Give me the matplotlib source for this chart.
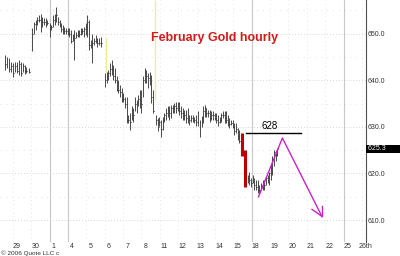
import matplotlib
matplotlib.use("Agg")
import matplotlib.pyplot as plt
from matplotlib.patches import Rectangle
from matplotlib.transforms import blended_transform_factory

# ---------------- data ----------------
day_labels = ["29", "30", "1", "4", "5", "6", "7", "8", "11", "12", "13",
              "14", "15", "18", "19", "20", "21", "22", "25", "26th"]
week_break_labels = ["1", "4", "18", "25"]

bar_day = [-0.65, -0.56, -0.42, -0.32, -0.20, -0.11, 0.02, 0.12, 0.22, 0.34, 0.43, 0.52, 0.66,
           0.82, 0.93, 1.02, 1.12, 1.20, 1.29, 1.39, 1.47, 1.56, 1.65, 1.78, 1.87, 1.96, 2.05,
           2.14, 2.23, 2.32, 2.41, 2.50, 2.59, 2.68, 2.77, 2.86, 2.95, 3.04, 3.13, 3.22, 3.30,
           3.40, 3.49, 3.57, 3.67, 3.76, 3.84, 3.94, 4.03, 4.11, 4.20, 4.30, 4.38, 4.47, 4.57,
           4.80, 4.89, 4.98, 5.07, 5.16, 5.25, 5.34, 5.43, 5.51, 5.61, 5.70, 5.78, 5.88, 5.97,
           6.05, 6.15, 6.24, 6.32, 6.42, 6.51, 6.59, 6.68, 6.78, 6.86, 6.95, 7.05, 7.13, 7.22,
           7.32, 7.40, 7.58, 7.67, 7.76, 7.85, 7.94, 8.03, 8.12, 8.21, 8.30, 8.39, 8.48, 8.57,
           8.66, 8.75, 8.84, 8.93, 9.02, 9.11, 9.20, 9.29, 9.38, 9.47, 9.56, 9.65, 9.74, 9.83,
           9.94, 10.05, 10.14, 10.23, 10.31, 10.40, 10.50, 10.58, 10.67, 10.77, 10.85, 10.94,
           11.04, 11.12, 11.21, 11.31, 11.39, 11.48, 11.57, 11.66, 11.75, 11.84, 11.93, 12.02,
           12.11, 12.56, 12.65, 12.74, 12.83, 12.92, 13.01, 13.10, 13.19, 13.28, 13.37, 13.46,
           13.55, 13.64, 13.73, 13.82, 13.91, 14.00, 14.09, 14.18]
bar_high = [645.4, 645.0, 644.7, 644.0, 643.6, 644.0, 644.0, 644.3, 644.0, 643.6, 643.3, 642.9, 642.6,
            651.1, 652.5, 652.9, 653.6, 654.0, 654.3, 653.6, 653.3, 653.3, 652.9, 652.2, 651.8, 654.0, 654.3,
            655.7, 653.6, 652.9, 652.2, 651.8, 651.5, 651.1, 651.1, 651.1, 650.8, 650.0, 650.8, 650.4, 650.8,
            650.8, 651.1, 651.1, 651.5, 652.2, 654.0, 652.9, 648.6, 650.0, 649.0, 649.7, 649.0, 649.0, 649.3,
            641.5, 641.8, 642.2, 643.6, 644.3, 643.3, 642.6, 640.8, 640.1, 639.0, 638.3, 637.2, 636.5, 636.5,
            632.6, 632.9, 634.4, 634.0, 636.5, 635.8, 636.9, 637.9, 637.9, 640.8, 642.6, 642.2, 641.5, 641.8,
            641.1, 637.9, 632.6, 631.9, 632.2, 631.5, 632.2, 632.9, 634.0, 634.4, 634.4, 634.7, 634.7, 635.1,
            635.4, 635.4, 635.4, 634.4, 634.0, 633.6, 633.6, 634.0, 632.6, 632.6, 632.6, 632.2, 632.6, 633.3,
            631.5, 632.4, 634.4, 634.7, 634.0, 633.6, 633.6, 633.3, 633.3, 632.9, 632.9, 632.6,
            632.2, 632.9, 633.3, 633.3, 633.3, 632.6, 631.9, 631.5, 631.5, 630.8, 630.8, 629.7,
            629.4, 619.7, 620.4, 619.0, 619.7, 619.0, 618.7, 618.7, 617.6, 618.0, 618.7, 618.7,
            619.4, 619.7, 620.4, 622.2, 623.7, 625.1, 625.1, 625.5]
bar_low = [642.2, 642.6, 641.8, 641.8, 640.6, 641.8, 641.5, 641.1, 640.9, 641.8, 641.3, 641.6, 641.5,
           646.3, 650.0, 650.8, 651.8, 652.5, 650.4, 651.5, 651.8, 651.5, 651.8, 649.3, 650.8, 651.5, 651.8,
           652.5, 651.8, 651.5, 650.4, 650.0, 650.0, 650.0, 649.7, 649.3, 647.9, 648.3, 644.3, 649.0, 649.3,
           649.3, 649.7, 650.0, 649.3, 649.7, 649.3, 646.5, 646.8, 643.6, 647.5, 647.9, 647.2, 647.5, 647.2,
           638.6, 639.4, 640.1, 640.8, 641.1, 640.1, 639.4, 637.6, 637.2, 636.5, 635.4, 635.4, 634.0, 630.8,
           630.8, 629.4, 631.5, 631.1, 633.3, 632.9, 634.4, 634.0, 632.9, 636.5, 639.4, 639.4, 638.3, 639.0,
           635.1, 632.9, 630.4, 629.0, 630.1, 627.9, 629.4, 631.1, 631.5, 632.2, 631.5, 631.9, 632.9, 632.9,
           632.9, 633.3, 632.6, 631.9, 631.5, 631.5, 630.8, 630.8, 630.4, 631.1, 631.1, 630.8, 630.1, 630.1,
           627.9, 629.9, 630.8, 632.2, 632.2, 632.2, 631.1, 631.5, 631.5, 631.5, 630.8, 630.1,
           630.8, 631.1, 631.9, 630.8, 630.8, 630.1, 629.7, 630.4, 629.7, 628.3, 628.7, 627.2,
           626.5, 618.0, 617.6, 617.2, 618.0, 616.5, 616.5, 615.8, 615.8, 616.5, 616.5, 616.5,
           617.6, 618.0, 617.6, 618.7, 619.7, 621.5, 622.6, 623.8]
bar_close = [643.5, 644.0, 642.5, 643.0, 641.5, 643.0, 642.0, 643.5, 641.5, 643.0, 642.0, 642.0, 641.8,
             650.0, 652.0, 651.5, 653.0, 653.0, 652.0, 652.5, 652.5, 652.0, 652.2, 650.5, 651.5, 653.0, 653.5,
             654.0, 652.5, 652.0, 651.0, 650.8, 650.5, 650.5, 650.2, 650.0, 648.5, 649.5, 649.0, 649.8, 650.2,
             650.0, 650.5, 650.5, 651.0, 651.5, 652.5, 647.5, 647.5, 648.0, 648.5, 648.5, 648.0, 648.0, 648.0,
             640.0, 641.0, 641.5, 642.5, 642.5, 641.0, 640.0, 638.5, 638.0, 637.5, 636.5, 636.0, 635.0, 631.5,
             631.5, 631.0, 633.0, 632.5, 635.0, 634.0, 636.0, 636.5, 635.0, 640.0, 641.5, 641.0, 640.5, 640.5,
             636.5, 633.5, 631.5, 630.0, 631.0, 629.5, 631.5, 632.5, 633.0, 633.5, 633.0, 634.0, 634.0, 634.5,
             634.0, 634.5, 633.5, 633.0, 632.5, 632.5, 632.0, 631.5, 631.5, 632.0, 631.5, 631.5, 631.0, 630.5,
             628.5, 631.5, 633.5, 634.0, 633.0, 633.0, 632.0, 632.5, 632.5, 632.0, 631.5, 631.0,
             631.5, 632.5, 632.5, 632.0, 631.5, 631.0, 630.5, 630.8, 630.0, 629.0, 629.5, 628.0,
             627.0, 619.0, 618.5, 618.0, 618.5, 617.5, 617.0, 616.5, 616.5, 617.0, 618.0, 617.5,
             619.0, 619.0, 620.0, 621.5, 623.0, 624.5, 624.0, 625.3]

red_day = [12.25, 12.41]
red_high = [628.7, 625.1]
red_low = [623.7, 617.2]

gap_day = [4.85, 7.50]
gap_top = [649.0, 657.2]
gap_bot = [641.5, 635.8]

arrow_day = [13.15, 14.45, 16.60]
arrow_price = [615.0, 627.6, 610.8]
barb_day = [16.06, 16.60]
barb_price = [612.3, 613.0]

target_level = 628.7
target_days = [12.45, 15.47]
target_text = "628"
last_price = 625.3
title_text = "February Gold hourly"
copyright_text = "\u00a9 2006 Quote LLC c"
y_major = [610, 620, 630, 640, 650]
y_minor = [615, 625, 635, 645, 655]

# ---------------- figure ----------------
plt.rcParams['font.family'] = ['Liberation Sans', 'DejaVu Sans']
fig = plt.figure(figsize=(4.0, 2.56), dpi=100)
ax = fig.add_axes([0.0, 14 / 256, 366 / 400, 242 / 256])
ax.set_xlim(-0.92, 18.81)
ax.set_ylim(605.3, 657.2)

grid_off = -0.22
n_days = len(day_labels)
# grids
for yv in y_major:
    ax.axhline(yv, color='#c8c8c8', lw=0.6, ls=(0, (1, 2.5)), zorder=0)
for yv in y_minor:
    ax.axhline(yv, color='#d8d8d8', lw=0.6, ls=(0, (1, 6)), zorder=0)
for i, lab in enumerate(day_labels):
    if lab in week_break_labels:
        ax.axvline(i + grid_off, color='#c8c8c8', lw=0.8, zorder=0)
    else:
        ax.axvline(i + grid_off, color='#dcdcdc', lw=0.6, ls=(0, (1, 4)), zorder=0)

# yellow gap markers
ax.vlines(gap_day, gap_bot, gap_top, color='#f2ee90', lw=1.0, zorder=1)

# OHLC bars (high-low + close tick)
bar_col = '#3c3c3c'
ax.vlines(bar_day, bar_low, bar_high, color=bar_col, lw=0.65, zorder=2)
tick_w = 0.045
for d, c in zip(bar_day, bar_close):
    ax.plot([d, d + tick_w], [c, c], color=bar_col, lw=0.5, zorder=2)

# red bars
ax.vlines(red_day, red_low, red_high, color='#c00000', lw=2.2, zorder=3)

# target line + label
ax.plot(target_days, [target_level, target_level], color='black', lw=1.0, zorder=3)
ax.text(sum(target_days) / 2 - 0.2, target_level + 0.3, target_text, ha='center', va='bottom',
        fontsize=7, color='black', zorder=4)

# magenta projection
ax.plot(arrow_day, arrow_price, color='#cc22cc', lw=1.0, zorder=4)
for bd, bp in zip(barb_day, barb_price):
    ax.plot([bd, arrow_day[-1]], [bp, arrow_price[-1]], color='#cc22cc', lw=1.0, zorder=4)

# title
ax.text(0.587, 0.845, title_text, transform=ax.transAxes, ha='center', va='center',
        fontsize=9.0, fontweight='bold', color='#d41a1a', zorder=5)

# axes styling
for side in ['top', 'left', 'bottom']:
    ax.spines[side].set_visible(False)
ax.spines['right'].set_color('#505050')
ax.spines['right'].set_linewidth(0.8)

ax.yaxis.tick_right()
ax.set_yticks(y_major)
ax.set_yticklabels([f"{v:.1f}" for v in y_major])
ax.tick_params(axis='y', length=0, pad=1, labelsize=5, labelcolor='#333333')

ax.set_xticks(range(n_days))
ax.set_xticklabels(day_labels)
ax.tick_params(axis='x', length=0, pad=0.5, labelsize=5, labelcolor='#333333')

# last price box (black strip to the figure edge)
btrans = blended_transform_factory(ax.transAxes, ax.transData)
ax.add_patch(Rectangle((1.0, last_price - 0.9), 0.1, 1.8, transform=btrans,
                       facecolor='black', edgecolor='none', clip_on=False, zorder=6))
ax.text(1.0, last_price, f" {last_price:.1f}", transform=btrans, ha='left', va='center',
        fontsize=5, color='white', clip_on=False, zorder=7)

fig.text(0.002, 0.0, copyright_text, ha='left', va='bottom', fontsize=4.6, color='#333333')

fig.savefig("out.png", dpi=100)
